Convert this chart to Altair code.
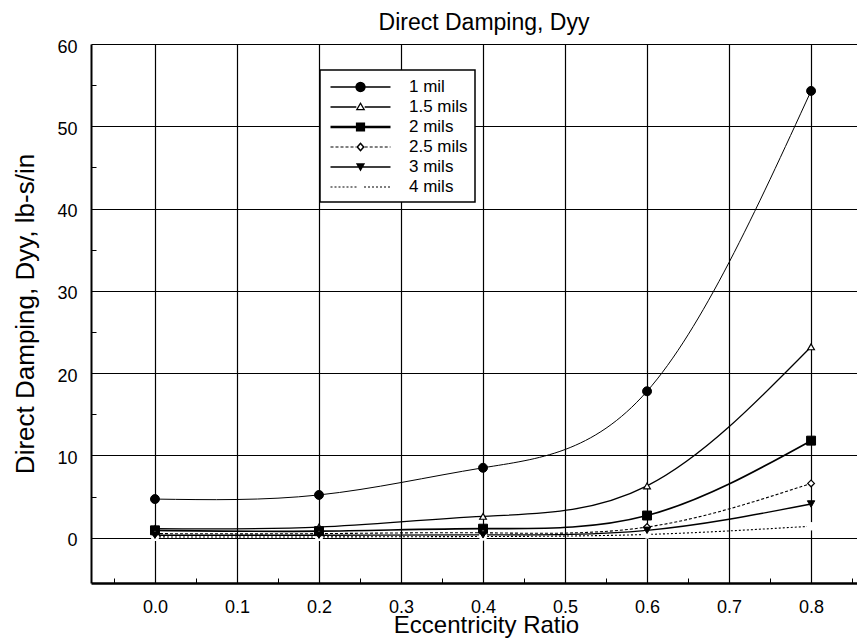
import math
import altair as alt
import pandas as pd

FONT = "Liberation Sans, Arial, Helvetica, sans-serif"

# ---------------- data ----------------
ecc = [0.0, 0.2, 0.4, 0.6, 0.8]
series_names = ["1 mil", "1.5 mils", "2 mils", "2.5 mils", "3 mils", "4 mils"]
dyy_1mil = [4.7, 5.2, 8.5, 17.8, 54.3]
dyy_15mil = [1.1, 1.3, 2.6, 6.3, 23.2]
dyy_2mil = [0.9, 0.8, 1.1, 2.7, 11.8]
dyy_25mil = [0.5, 0.5, 0.6, 1.3, 6.6]
dyy_3mil = [0.3, 0.3, 0.35, 0.9, 4.1]
dyy_4mil = [0.1, 0.1, 0.15, 0.4, 1.4]

x_ticks = [0.0, 0.1, 0.2, 0.3, 0.4, 0.5, 0.6, 0.7, 0.8]
y_ticks = [0, 10, 20, 30, 40, 50, 60]
x_minor = [-0.05, 0.05, 0.15, 0.25, 0.35, 0.45, 0.55, 0.65, 0.75, 0.85]
y_minor = [5, 15, 25, 35, 45, 55]

all_series = [dyy_1mil, dyy_15mil, dyy_2mil, dyy_25mil, dyy_3mil, dyy_4mil]
rows = []
for name, vals in zip(series_names, all_series):
    for e, v in zip(ecc, vals):
        rows.append({"ecc": e, "dyy": v, "series": name})
df = pd.DataFrame(rows)

# ---------------- styles ----------------
W, H = 766, 539
xscale = alt.Scale(domain=[-0.078, 0.856], nice=False, zero=False)
yscale = alt.Scale(domain=[-5.5, 60], nice=False, zero=False)

line_styles = {
    "1 mil": dict(strokeWidth=1.0),
    "1.5 mils": dict(strokeWidth=1.3),
    "2 mils": dict(strokeWidth=1.7),
    "2.5 mils": dict(strokeWidth=1.1, strokeDash=[3, 2]),
    "3 mils": dict(strokeWidth=1.3),
    "4 mils": dict(strokeWidth=1.1, strokeDash=[2, 2]),
}
point_styles = {
    "1 mil": dict(shape="circle", size=80, fill="black", stroke="black", strokeWidth=1),
    "1.5 mils": dict(shape="triangle-up", size=45, fill="white", stroke="black", strokeWidth=1.2),
    "2 mils": dict(shape="square", size=80, fill="black", stroke="black", strokeWidth=1),
    "2.5 mils": dict(shape="diamond", size=45, fill="white", stroke="black", strokeWidth=1.2),
    "3 mils": dict(shape="triangle-down", size=55, fill="black", stroke="black", strokeWidth=1),
    "4 mils": dict(shape="circle", size=70, fill="white", stroke="white", strokeWidth=0),
}

# legend symbols: custom filled paths (line sample + marker), pixels around symbol centre
SYM = 400
U = (SYM ** 0.5) / 2.0
L0, L1, M = -6.5, 53.5, 23.5


def fmt(v):
    return f"{v / U:.3f}"


def poly(pts):
    return "M" + "L".join(f"{fmt(x)},{fmt(y)}" for x, y in pts) + "Z"


def bar(a, b, thick=1.2, yc=0.0):
    h = thick / 2.0
    return poly([(a, yc - h), (b, yc - h), (b, yc + h), (a, yc + h)])


def dashed(a, b, on, off, thick=1.0):
    out, p = [], a
    while p < b:
        out.append(bar(p, min(p + on, b), thick))
        p += on + off
    return "".join(out)


def ngon(cx, cy, r, n=16):
    return [(cx + r * math.cos(2 * math.pi * k / n), cy + r * math.sin(2 * math.pi * k / n)) for k in range(n)]


tri_out = [(M, -5.0), (M + 4.8, 3.3), (M - 4.8, 3.3)]
tri_in = [(M, -2.6), (M - 2.6, 2.1), (M + 2.6, 2.1)]
dia_out = [(M, -4.8), (M + 4.2, 0), (M, 4.8), (M - 4.2, 0)]
dia_in = [(M, -2.6), (M - 2.2, 0), (M, 2.6), (M + 2.2, 0)]

legend_paths = [
    bar(L0, L1, 1.3) + poly(ngon(M, 0, 5.2)),
    bar(L0, M - 4.2, 1.3) + bar(M + 4.2, L1, 1.3) + poly(tri_out) + poly(tri_in),
    bar(L0, L1, 2.4) + poly([(M - 4.6, -4.6), (M + 4.6, -4.6), (M + 4.6, 4.6), (M - 4.6, 4.6)]),
    dashed(L0, M - 4.2, 3, 2) + dashed(M + 4.2, L1, 3, 2) + poly(dia_out) + poly(dia_in),
    bar(L0, L1, 1.4) + poly([(M - 4.6, -3.8), (M + 4.6, -3.8), (M, 4.6)]),
    dashed(L0, M - 3.5, 2, 2) + dashed(M + 3.5, L1, 2, 2),
]

base = alt.Chart(df)

x_main = alt.Axis(
    orient="bottom", values=x_ticks, format=".1f", grid=True, gridColor="black",
    gridWidth=1.2, gridOpacity=1, ticks=False, domain=True, domainColor="black",
    domainWidth=2.5, labelFont=FONT, labelFontSize=18, labelColor="black",
    labelPadding=15, labelFlush=False, labelOverlap=False,
    title="Eccentricity Ratio", titleFont=FONT, titleFontSize=24,
    titleFontWeight="normal", titleColor="black", titleX=395, titleY=49,
    titleAlign="center", titleBaseline="alphabetic",
)
y_main = alt.Axis(
    orient="left", values=y_ticks, grid=True, gridColor="black", gridWidth=1.2,
    gridOpacity=1, ticks=False, domain=True, domainColor="black", domainWidth=2,
    labelFont=FONT, labelFontSize=18, labelColor="black", labelPadding=14,
    labelOffset=3, labelFlush=False, labelOverlap=False,
    title="Direct Damping, Dyy, lb-s/in", titleFont=FONT, titleFontSize=26,
    titleFontWeight="normal", titleColor="black", titleX=-58, titleY=H / 2,
    titleAngle=270, titleAlign="center", titleBaseline="alphabetic",
)
x_minor_axis = alt.Axis(
    orient="bottom", values=x_minor, offset=-5, tickSize=5, tickColor="black",
    tickWidth=1, domain=False, labels=False, grid=False, title=None,
)
y_minor_axis = alt.Axis(
    orient="left", values=y_minor, offset=-5, tickSize=5, tickColor="black",
    tickWidth=1, domain=False, labels=False, grid=False, title=None,
)

layers = []
# axes / grid carrier
layers.append(
    base.transform_filter("false").mark_point(opacity=0).encode(
        x=alt.X("ecc:Q", scale=xscale, axis=x_main),
        y=alt.Y("dyy:Q", scale=yscale, axis=y_main),
    )
)
# curves
for name in series_names:
    layers.append(
        base.transform_filter(alt.datum.series == name)
        .mark_line(interpolate="natural", color="black", **line_styles[name])
        .encode(
            x=alt.X("ecc:Q", scale=xscale, axis=None),
            y=alt.Y("dyy:Q", scale=yscale, axis=None),
        )
    )
# markers (4 mils white dots first)
for name in ["4 mils"] + series_names[:-1]:
    layers.append(
        base.transform_filter(alt.datum.series == name)
        .mark_point(filled=True, opacity=1, **point_styles[name])
        .encode(
            x=alt.X("ecc:Q", scale=xscale, axis=None),
            y=alt.Y("dyy:Q", scale=yscale, axis=None),
        )
    )
# legend + minor ticks carrier
layers.append(
    base.transform_filter("false")
    .mark_point(filled=True, fill="black", opacity=1)
    .encode(
        x=alt.X("ecc:Q", scale=xscale, axis=x_minor_axis),
        y=alt.Y("dyy:Q", scale=yscale, axis=y_minor_axis),
        shape=alt.Shape(
            "series:N",
            scale=alt.Scale(domain=series_names, range=legend_paths),
            legend=alt.Legend(
                title=None, orient="none", legendX=229, legendY=26,
                symbolSize=SYM, symbolFillColor="black",
                symbolStrokeWidth=0, symbolOpacity=1, labelFont=FONT,
                labelFontSize=17, labelColor="black", labelOffset=62,
                padding=7, rowPadding=2, strokeColor="black", fillColor="white",
                labelLimit=300,
            ),
        ),
    )
)

chart = (
    alt.layer(*layers)
    .resolve_axis(x="independent", y="independent")
    .properties(
        width=W,
        height=H,
        autosize=alt.AutoSizeParams(type="none"),
        padding={"left": 83, "top": 36, "right": 0, "bottom": 56},
        title=alt.TitleParams(
            "Direct Damping, Dyy", font=FONT, fontSize=23, fontWeight="normal",
            color="black", anchor="middle", frame="group", baseline="alphabetic",
            offset=0, dx=10, dy=15,
        ),
        background="white",
    )
    .configure_view(strokeWidth=0)
    .configure_legend(strokeWidth=1.5)
)

chart.save("out.html", embed_options={"renderer": "svg", "actions": False})
